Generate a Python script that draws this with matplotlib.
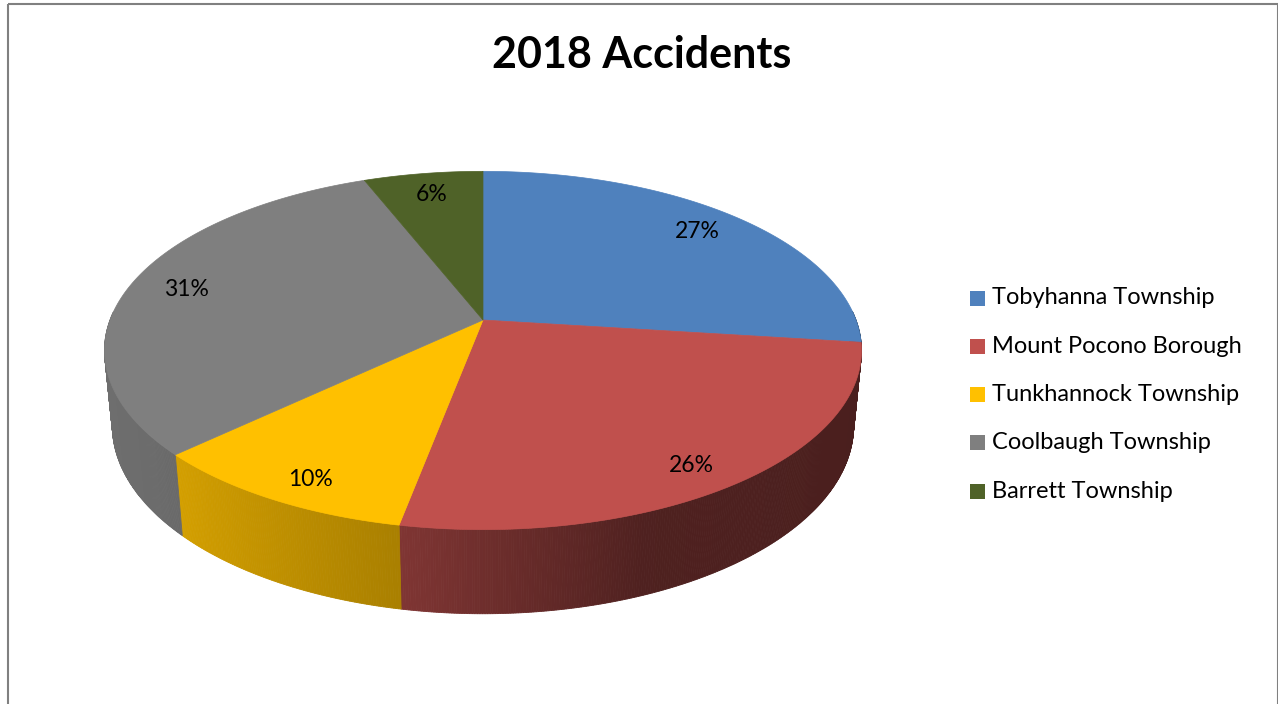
import numpy as np
import matplotlib
matplotlib.use("Agg")
import matplotlib.pyplot as plt
from matplotlib.patches import Polygon, Rectangle
import matplotlib.colors as mcolors

# ---- data ----
title = "2018 Accidents"
categories = ["Tobyhanna Township", "Mount Pocono Borough", "Tunkhannock Township",
              "Coolbaugh Township", "Barrett Township"]
percents = [27, 26, 10, 31, 6]
colors = ["#4F81BD", "#C0504D", "#FFC000", "#7F7F7F", "#4F6228"]

# ---- figure ----
W, H = 1278, 704
fig = plt.figure(figsize=(W / 100, H / 100), dpi=100)
ax = fig.add_axes([0, 0, 1, 1])
ax.set_xlim(0, W)
ax.set_ylim(H, 0)
ax.axis("off")

FONT = ["Lato", "DejaVu Sans"]

# ---- 3D projection setup ----
elev = np.radians(27.8)
dist = 5.2
thick = 0.23
cx, cy = 483, 320
target_width = 757

def project(x, y, z):
    x = np.asarray(x, float); y = np.asarray(y, float); z = np.asarray(z, float)
    depth = y * np.cos(elev) - z * np.sin(elev) + dist
    sx = x / depth
    sy = (y * np.sin(elev) + z * np.cos(elev)) / depth
    return sx, sy

tt = np.linspace(0, 2 * np.pi, 2000)
sx_all, _ = project(np.cos(tt), np.sin(tt), np.zeros_like(tt))
K = target_width / (sx_all.max() - sx_all.min())

def to_px(x, y, z):
    sx, sy = project(x, y, z)
    return cx + K * sx, cy - K * sy

# slice angles (start at 12 o'clock, clockwise)
vals = np.array(percents, float)
fr = vals / vals.sum()
ends = 90 - np.cumsum(fr) * 360
starts = np.concatenate([[90], ends[:-1]])

def shade(theta_deg):
    c = np.cos(np.radians(theta_deg))
    return np.interp(c, [-1.0, -0.8, -0.19, 0.37, 1.0],
                     [0.87, 0.85, 0.665, 0.41, 0.385])

# side walls (front half only)
for i in range(len(vals)):
    a0, a1 = ends[i], starts[i]
    angs = np.linspace(a1, a0, max(int((a1 - a0) * 3), 2))
    base = np.array(mcolors.to_rgb(colors[i]))
    for j in range(len(angs) - 1):
        m = 0.5 * (angs[j] + angs[j + 1])
        if np.sin(np.radians(m)) > 0.05:
            continue
        th = np.radians([angs[j], angs[j + 1]])
        xs, ys = np.cos(th), np.sin(th)
        tx, ty = to_px(xs, ys, [0, 0])
        bx, by = to_px(xs, ys, [-thick, -thick])
        poly = [(tx[0], ty[0]), (tx[1], ty[1]), (bx[1], by[1]), (bx[0], by[0])]
        c = base * shade(m)
        ax.add_patch(Polygon(poly, closed=True, facecolor=c, edgecolor=c,
                             linewidth=0.6, zorder=2))

# top faces
for i in range(len(vals)):
    th = np.radians(np.linspace(starts[i], ends[i], 300))
    px, py = to_px(np.cos(th), np.sin(th), np.zeros_like(th))
    ox, oy = to_px(0, 0, 0)
    pts = [(float(ox), float(oy))] + list(zip(px, py))
    ax.add_patch(Polygon(pts, closed=True, facecolor=colors[i], edgecolor=colors[i],
                         linewidth=0.5, zorder=3))

# data labels
r_lab = 0.84
for i in range(len(vals)):
    mdeg = 0.5 * (starts[i] + ends[i])
    m = np.radians(mdeg)
    lx, ly = to_px(r_lab * np.cos(m), r_lab * np.sin(m), 0)
    ly = float(ly) + 15 * max(0.0, -np.sin(m))  # front labels sit lower
    ax.text(float(lx), ly, f"{percents[i]}%", ha="center", va="center",
            fontsize=16.5, family=FONT, color="black", zorder=5)

# title
ax.text(642, 55, title, ha="center", va="center", fontsize=31, fontweight="bold",
        family=FONT, color="black")

# legend
leg_x, leg_y0, leg_dy = 970, 298, 48.3
for i, name in enumerate(categories):
    y = leg_y0 + i * leg_dy
    ax.add_patch(Rectangle((leg_x, y - 7.5), 15, 15, facecolor=colors[i],
                           edgecolor="none", zorder=4))
    ax.text(leg_x + 22, y, name, ha="left", va="center", fontsize=17,
            family=FONT, color="black")

# chart border
ax.add_patch(Rectangle((7.5, 3.5), 1270, 720, facecolor="none",
                       edgecolor="#808080", linewidth=1.5, zorder=6))

fig.savefig("out.png", dpi=100)
